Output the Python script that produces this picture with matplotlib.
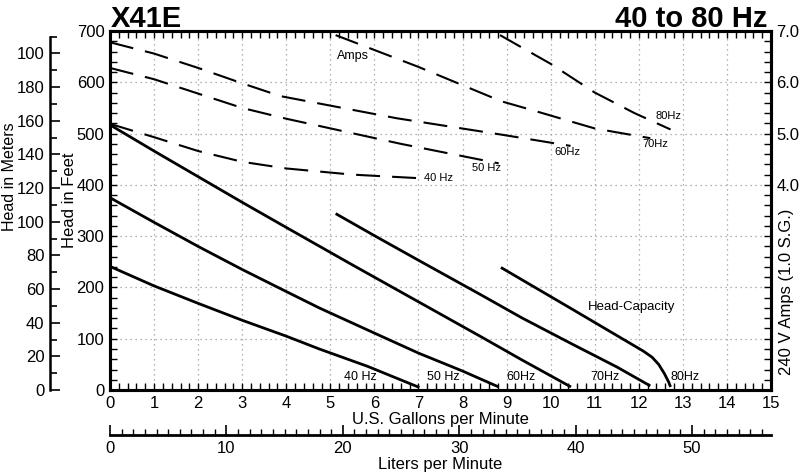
import numpy as np
import matplotlib.pyplot as plt
from matplotlib.ticker import MultipleLocator

plt.rcParams['font.family'] = ['Liberation Sans', 'DejaVu Sans']

# head-capacity curves (gpm, feet)
head_40_q = [0, 1, 2, 3, 4, 4.75, 5.85, 7.02]
head_40_h = [241, 203, 169, 136, 105, 80, 46, 5]
head_50_q = [0, 1, 2, 3, 4, 4.75, 6, 7, 8, 8.82]
head_50_h = [375, 327, 280, 235, 192, 160, 111, 72, 37, 6]
head_60_q = [0, 1, 2, 3, 4, 5.5, 7, 8.5, 9.34, 10.46]
head_60_h = [517, 466, 416, 366, 317, 244, 172, 100, 59, 6]
head_70_q = [5.12, 6, 7, 8.43, 9.34, 10.5, 11.5, 12.26]
head_70_h = [344, 301, 253, 185, 141, 89, 45, 8]
head_80_q = [8.87, 10.5, 12.1, 12.3, 12.45, 12.58, 12.68, 12.72]
head_80_h = [239, 157, 76, 64, 50, 32, 15, 6]

# amps curves (gpm, amps)
amps_40_q = [0, 1, 2, 3, 4, 5.5, 7.02]
amps_40_a = [5.19, 4.93, 4.66, 4.45, 4.32, 4.2, 4.13]
amps_50_q = [0, 1, 2, 3, 4, 6.6, 8.82]
amps_50_a = [6.28, 6.06, 5.78, 5.50, 5.29, 4.80, 4.42]
amps_60_q = [0, 1, 2, 3, 3.87, 6.5, 8.88, 10.45]
amps_60_a = [6.78, 6.56, 6.28, 5.98, 5.73, 5.30, 4.98, 4.76]
amps_70_q = [5.12, 7, 8.88, 9.57, 11, 12.26]
amps_70_a = [6.92, 6.3, 5.63, 5.46, 5.10, 4.91]
amps_80_q = [8.85, 10, 11, 11.9, 12.72]
amps_80_a = [6.92, 6.36, 5.8, 5.4, 5.08]

gpm_ticks = list(range(16))
feet_ticks = list(range(0, 701, 100))
amp_ticks = [4, 5, 6, 7]
amp_labels = ["4.0", "5.0", "6.0", "7.0"]
meter_ticks = list(range(0, 201, 20))
meter_labels = ["0", "20", "40", "60", "80", "100", "120", "140", "160", "180", "100"]
liter_ticks = list(range(0, 51, 10))

fig = plt.figure(figsize=(8, 4.75), dpi=100)
ax = fig.add_axes([0.1375, 0.1789, 0.8263, 0.7558])
ax.set_xlim(0, 15)
ax.set_ylim(0, 700)
ax.set_xticks(gpm_ticks)
ax.set_yticks(feet_ticks)
ax.xaxis.set_minor_locator(MultipleLocator(0.2))
ax.yaxis.set_minor_locator(MultipleLocator(20))
ax.tick_params(which='both', direction='in', length=5, width=1, top=True,
               right=False, labelsize=12)
ax.tick_params(axis='x', pad=4)
ax.tick_params(axis='y', pad=4)
ax.grid(True, which='major', color='#999999', ls=(0, (1, 3)), lw=0.9)
for s in ax.spines.values():
    s.set_linewidth(2.2)
ax.set_xlabel("U.S. Gallons per Minute", fontsize=12, labelpad=1)

ax2 = ax.twinx()
ax2.set_ylim(0, 7)
ax2.set_yticks(amp_ticks)
ax2.set_yticklabels(amp_labels)
ax2.yaxis.set_minor_locator(MultipleLocator(0.2))
ax2.tick_params(which='both', direction='in', length=5, width=1, labelsize=12, pad=4)
for s in ax2.spines.values():
    s.set_linewidth(2.2)

for q, h in [(head_40_q, head_40_h), (head_50_q, head_50_h), (head_60_q, head_60_h),
             (head_70_q, head_70_h), (head_80_q, head_80_h)]:
    ax.plot(q, h, color='black', lw=2.0, solid_capstyle='butt')

for q, a in [(amps_40_q, amps_40_a), (amps_50_q, amps_50_a), (amps_60_q, amps_60_a),
             (amps_70_q, amps_70_a), (amps_80_q, amps_80_a)]:
    ax2.plot(q, a, color='black', lw=1.5, dashes=(11.5, 5.8))

# curve labels
for x, t in [(5.31, "40 Hz"), (7.2, "50 Hz"), (9.0, "60Hz"), (10.89, "70Hz"), (12.71, "80Hz")]:
    ax.text(x, 26, t, fontsize=9, va='center')
ax.text(10.84, 162, "Head-Capacity", fontsize=9.5, va='center')

ax2.text(5.51, 6.51, "Amps", fontsize=9, ha='center', va='center')
for x, y, t in [(7.13, 4.13, "40 Hz"), (8.22, 4.33, "50 Hz"), (10.09, 4.64, "60Hz"),
                (12.07, 4.80, "70Hz"), (12.37, 5.35, "80Hz")]:
    ax2.text(x, y, t, fontsize=8, va='center')

# meters axis
axm = fig.add_axes([50 / 800, 0.1789, 0.0001, 0.7558])
axm.set_ylim(0, 700 * 0.3048)
axm.set_xticks([])
for k in ['top', 'right', 'bottom']:
    axm.spines[k].set_visible(False)
axm.spines['left'].set_linewidth(1.8)
axm.spines['left'].set_bounds(0, 210)
axm.set_yticks(meter_ticks)
axm.set_yticklabels(meter_labels)
axm.set_yticks([v for v in range(10, 211, 20)], minor=True)
axm.tick_params(which='major', direction='in', length=7, width=1.2, labelsize=12, pad=4)
axm.tick_params(which='minor', direction='in', length=5, width=1.2)
axm.patch.set_visible(False)

# liters axis
axl = fig.add_axes([0.1375, 1 - 435 / 475, 0.8263, 0.0001])
axl.set_xlim(0, 15 * 3.78541)
axl.set_yticks([])
for k in ['top', 'right', 'left']:
    axl.spines[k].set_visible(False)
axl.spines['bottom'].set_linewidth(2)
axl.set_xticks(liter_ticks)
axl.xaxis.set_minor_locator(MultipleLocator(1))
axl.tick_params(which='major', direction='in', length=7, width=1.2, labelsize=12, pad=4)
axl.tick_params(which='minor', direction='in', length=4, width=1)
axl.set_xlabel("Liters per Minute", fontsize=12, labelpad=1)
axl.patch.set_visible(False)

fig.text(10 / 800, 1 - 177 / 475, "Head in Meters", rotation=90, fontsize=11.5,
         ha='center', va='center')
fig.text(70 / 800, 1 - 200 / 475, "Head in Feet", rotation=90, fontsize=12,
         ha='center', va='center')
fig.text(787 / 800, 1 - 292 / 475, "240 V Amps (1.0 S.G.)", rotation=90, fontsize=12,
         ha='center', va='center')
fig.text(111 / 800, 1 - 27 / 475, "X41E", fontsize=21, weight='bold', va='baseline')
fig.text(767 / 800, 1 - 27 / 475, "40 to 80 Hz", fontsize=21, weight='bold',
         ha='right', va='baseline')

fig.savefig("out.png", dpi=100)
